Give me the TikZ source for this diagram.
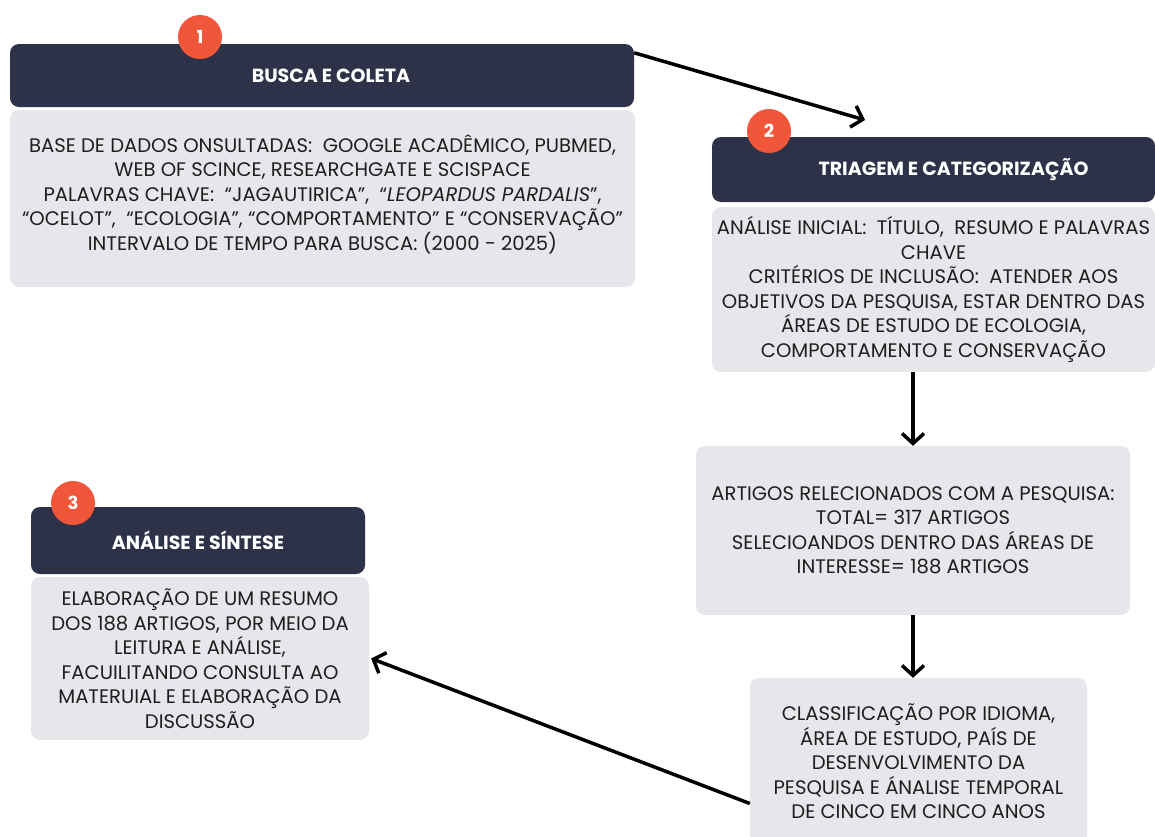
\documentclass[tikz,border=0pt]{standalone}
\usepackage{fontspec}
\setmainfont{Poppins}
\usetikzlibrary{calc,arrows.meta}
\definecolor{navy}{RGB}{46,50,72}
\definecolor{panel}{RGB}{230,230,235}
\definecolor{badgered}{RGB}{239,86,58}
\definecolor{ink}{RGB}{30,30,30}

\begin{document}
\begin{tikzpicture}
	  [x=1pt,y=-1pt,
   head/.style={fill=navy,rounded corners=9pt,text=white,inner sep=0pt,
     font=\fontsize{19}{22}\selectfont\bfseries},
   panelbox/.style={fill=panel,rounded corners=9pt,text=ink,align=center,inner sep=0pt,
     font=\fontsize{19.6}{24.5}\selectfont},
   badge/.style={fill=badgered,circle,minimum size=44pt,inner sep=0pt,text=white,
     font=\fontsize{18}{20}\selectfont\bfseries},
   flow/.style={line width=3.5pt,-{Straight Barb[length=10pt,width=22pt]}}
  ]
  \useasboundingbox (0,0) rectangle (1155,836);

  % step 1
  \node[head,minimum width=624pt,minimum height=63pt] (head1) at (322,75.5) {\hspace{18pt}BUSCA E COLETA};
  \node[panelbox,minimum width=625pt,minimum height=177pt] (body1) at (322.5,198.5)
    {BASE DE DADOS ONSULTADAS:\ \ GOOGLE ACADÊMICO, PUBMED,\\
     WEB OF SCINCE, RESEARCHGATE E SCISPACE\\
     PALAVRAS CHAVE:\ \ “JAGAUTIRICA”,\ \ “\textit{LEOPARDUS PARDALIS}”,\\
     “OCELOT”,\ \ “ECOLOGIA”, “COMPORTAMENTO” E “CONSERVAÇÃO”\\
     INTERVALO DE TEMPO PARA BUSCA: (2000 - 2025)\\[-12pt]};
  \node[badge] (badge1) at (200,37) {1};

  % step 2
  \node[head,minimum width=443pt,minimum height=65pt] (head2) at (933.5,169.5) {\hspace{40pt}TRIAGEM E CATEGORIZAÇÃO};
  \node[panelbox,minimum width=443pt,minimum height=165pt] (body2) at (933.5,289.5)
    {ANÁLISE INICIAL:\ \ TÍTULO,\ \ RESUMO E PALAVRAS\\
     CHAVE\\
     CRITÉRIOS DE INCLUSÃO:\ \ ATENDER AOS\\
     OBJETIVOS DA PESQUISA, ESTAR DENTRO DAS\\
     ÁREAS DE ESTUDO DE ECOLOGIA,\\
     COMPORTAMENTO E CONSERVAÇÃO};
  \node[badge] (badge2) at (769,131) {2};
  \coordinate (tip1) at (865,120);

  \node[panelbox,minimum width=434pt,minimum height=169pt] (count) at (913,530.5)
    {ARTIGOS RELECIONADOS COM A PESQUISA:\\
     TOTAL= 317 ARTIGOS\\
     SELECIOANDOS DENTRO DAS ÁREAS DE\\
     INTERESSE= 188 ARTIGOS};
  \node[panelbox,minimum width=337pt,minimum height=167pt] (classif) at (918.5,761.5)
    {CLASSIFICAÇÃO POR IDIOMA,\\
     ÁREA DE ESTUDO, PAÍS DE\\
     DESENVOLVIMENTO DA\\
     PESQUISA E ÁNALISE TEMPORAL\\
     DE CINCO EM CINCO ANOS};

  % step 3
  \node[head,minimum width=334pt,minimum height=67pt] (head3) at (198,540.5) {ANÁLISE E SÍNTESE};
  \node[panelbox,minimum width=338pt,minimum height=163pt] (body3) at (200,658.5)
    {ELABORAÇÃO DE UM RESUMO\\
     DOS 188 ARTIGOS, POR MEIO DA\\
     LEITURA E ANÁLISE,\\
     FACUILITANDO CONSULTA AO\\
     MATERUIAL E ELABORAÇÃO DA\\
     DISCUSSÃO};
  \node[badge] (badge3) at (73,503) {3};

  % arrows
  \draw[flow] ($(head1.north east)+(0,9)$) -- (tip1);
  \draw[flow] (body2.south -| count.north) -- (count.north);
  \draw[flow] (count.south) -- (count.south |- classif.north);
  \draw[flow] ($(classif.west)+(0,42)$) -- ($(body3.east)+(2,0)$);

\end{tikzpicture}
\end{document}
